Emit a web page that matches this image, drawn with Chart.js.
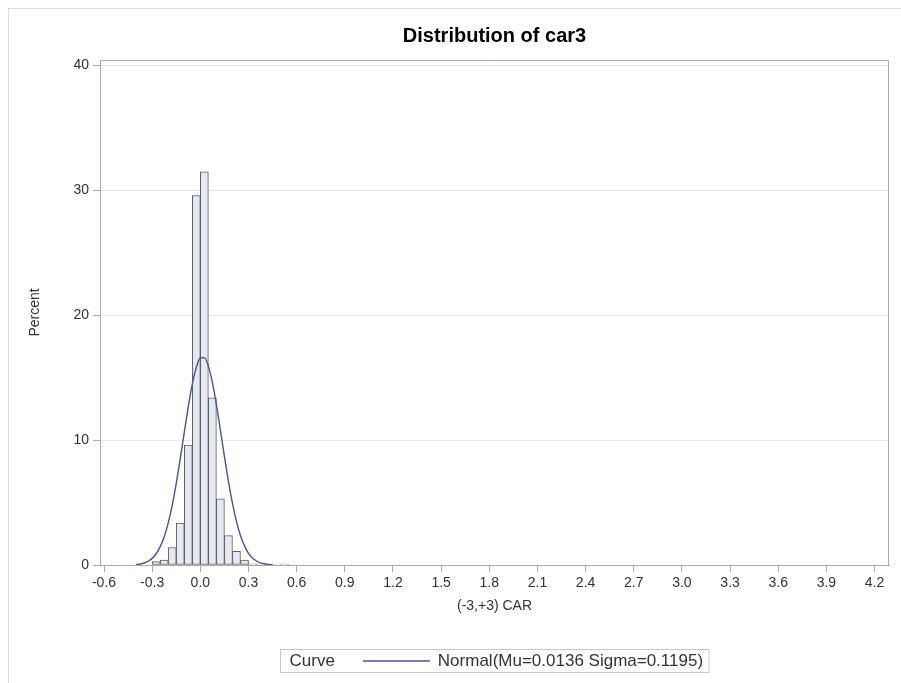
<!DOCTYPE html>
<html>
<head>
<meta charset="utf-8">
<script src="https://cdn.jsdelivr.net/npm/chart.js@4.4.1/dist/chart.umd.min.js"></script>
<style>
  html, body { margin: 0; padding: 0; background: #fff; }
  #wrap { width: 901px; height: 683px; }
</style>
</head>
<body>
<div id="wrap"><canvas id="histChart"></canvas></div>
<script>
// Histogram bins (midpoints, width 0.05) and percent per bin
const binMids = [-0.275, -0.225, -0.175, -0.125, -0.075, -0.025, 0.025, 0.075, 0.125, 0.175, 0.225, 0.275, 0.325, 0.375, 0.425, 0.475, 0.525];
const binPercent = [0.27, 0.4, 1.4, 3.35, 9.6, 29.6, 31.5, 13.4, 5.3, 2.35, 1.1, 0.4, 0.1, 0.05, 0.05, 0, 0.08];

// Fitted normal curve
const curveX = [-0.4, -0.375, -0.35, -0.325, -0.3, -0.275, -0.25, -0.225, -0.2, -0.175, -0.15, -0.125, -0.1, -0.075, -0.05, -0.025, 0, 0.025, 0.05, 0.075, 0.1, 0.125, 0.15, 0.175, 0.2, 0.225, 0.25, 0.275, 0.3, 0.325, 0.35, 0.375, 0.4, 0.425, 0.45];
const curveY = [0.04, 0.08, 0.16, 0.30, 0.53, 0.90, 1.47, 2.27, 3.38, 4.80, 6.54, 8.52, 10.62, 12.68, 14.49, 15.84, 16.58, 16.61, 15.93, 14.63, 12.85, 10.81, 8.70, 6.70, 4.95, 3.49, 2.36, 1.53, 0.94, 0.56, 0.32, 0.17, 0.09, 0.04, 0.02];

// Axis ticks
const xTicks = [-0.6, -0.3, 0.0, 0.3, 0.6, 0.9, 1.2, 1.5, 1.8, 2.1, 2.4, 2.7, 3.0, 3.3, 3.6, 3.9, 4.2];
const yTicks = [0, 10, 20, 30, 40];

const chartTitle = "Distribution of car3";
const xTitle = "(-3,+3) CAR";
const yTitle = "Percent";
const legendTitle = "Curve";
const curveLabel = "Normal(Mu=0.0136 Sigma=0.1195)";

const FONT = "'Liberation Sans', Arial, sans-serif";
const TEXT = "#333333";
const AXIS = "#a9abae";
const CURVE = "#445694";

// frame, title and legend box
const decorations = {
    id: "decorations",
    afterDraw(chart) {
        const ctx = chart.ctx;
        const a = chart.chartArea;
        ctx.save();

        // outer border (cut off at right/bottom like the original)
        ctx.strokeStyle = "#dcdcdc";
        ctx.lineWidth = 1;
        ctx.strokeRect(8.5, 8.5, 1000, 1000);

        // plot frame top + right
        ctx.strokeStyle = AXIS;
        ctx.beginPath();
        ctx.moveTo(Math.round(a.left) + 0.5, Math.round(a.top) + 0.5);
        ctx.lineTo(Math.round(a.right) - 0.5, Math.round(a.top) + 0.5);
        ctx.lineTo(Math.round(a.right) - 0.5, Math.round(a.bottom) + 0.5);
        ctx.stroke();

        const cx = (a.left + a.right) / 2;

        // title
        ctx.fillStyle = "#000";
        ctx.font = "bold 20px " + FONT;
        ctx.textAlign = "center";
        ctx.textBaseline = "middle";
        ctx.fillText(chartTitle, cx, 36);

        // legend
        ctx.font = "17px " + FONT;
        const w1 = ctx.measureText(legendTitle).width;
        const w2 = ctx.measureText(curveLabel).width;
        const lineLen = 67;
        const boxW = 9 + w1 + 28 + lineLen + 8 + w2 + 6;
        const bx = Math.round(cx - boxW / 2) + 0.5;
        const by = 649.5;
        ctx.strokeStyle = "#c8c8c8";
        ctx.strokeRect(bx, by, boxW, 23);
        ctx.fillStyle = TEXT;
        ctx.textAlign = "left";
        ctx.fillText(legendTitle, bx + 9, by + 12);
        const lx = bx + 9 + w1 + 28;
        ctx.strokeStyle = CURVE;
        ctx.lineWidth = 1.4;
        ctx.beginPath();
        ctx.moveTo(lx, by + 11.5);
        ctx.lineTo(lx + lineLen, by + 11.5);
        ctx.stroke();
        ctx.fillText(curveLabel, lx + lineLen + 8, by + 12);

        ctx.restore();
    }
};

const ctx = document.getElementById("histChart").getContext("2d");

new Chart(ctx, {
    type: "bar",
    data: {
        datasets: [
            {
                type: "line",
                label: curveLabel,
                data: curveX.map((x, i) => ({ x: x, y: curveY[i] })),
                borderColor: CURVE,
                borderWidth: 1.4,
                pointRadius: 0,
                fill: false,
                cubicInterpolationMode: "monotone",
                order: 0
            },
            {
                label: "Percent",
                data: binMids.map((x, i) => ({ x: x, y: binPercent[i] })),
                backgroundColor: "#e4e9f2",
                borderColor: "#5e5e5e",
                borderWidth: 1,
                borderSkipped: false,
                barPercentage: 1,
                categoryPercentage: 1,
                order: 1
            }
        ]
    },
    options: {
        responsive: true,
        maintainAspectRatio: false,
        animation: false,
        layout: { padding: { top: 60, right: 12, left: 0, bottom: 0 } },
        plugins: {
            legend: { display: false },
            title: { display: false },
            tooltip: { enabled: false }
        },
        scales: {
            x: {
                type: "linear",
                offset: false,
                min: -0.625,
                max: 4.29,
                afterBuildTicks: s => { s.ticks = xTicks.map(v => ({ value: v })); },
                afterFit: s => { s.height = 118; },
                ticks: {
                    autoSkip: false,
                    maxRotation: 0,
                    padding: 3,
                    color: TEXT,
                    font: { family: FONT, size: 14 },
                    callback: v => v.toFixed(1)
                },
                grid: { offset: false, drawOnChartArea: false, drawTicks: true, tickLength: 7, color: AXIS },
                border: { color: AXIS },
                title: {
                    display: true,
                    text: xTitle,
                    color: TEXT,
                    font: { family: FONT, size: 14 },
                    padding: { top: 0, bottom: 68 }
                }
            },
            y: {
                min: 0,
                max: 40.45,
                afterBuildTicks: s => { s.ticks = yTicks.map(v => ({ value: v })); },
                afterFit: s => { s.width = 100; },
                ticks: {
                    padding: 4,
                    color: TEXT,
                    font: { family: FONT, size: 14 }
                },
                grid: { color: "#e8e8e8", tickColor: AXIS, tickLength: 7 },
                border: { color: AXIS },
                title: {
                    display: true,
                    text: yTitle,
                    color: TEXT,
                    font: { family: FONT, size: 14 },
                    padding: { top: 27, bottom: 0 }
                }
            }
        }
    },
    plugins: [decorations]
});
</script>
</body>
</html>
